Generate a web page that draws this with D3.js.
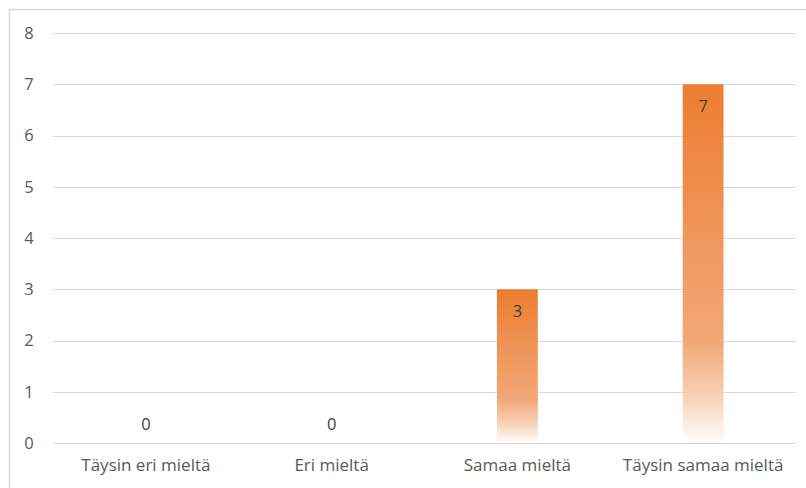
<!DOCTYPE html>
<html><head><meta charset="utf-8">
<script src="https://cdn.jsdelivr.net/npm/d3@7"></script>
<style>body{margin:0;background:#fff;} svg{display:block;}</style>
</head><body>
<svg id="c" width="806" height="488"></svg>
<script>
const categories = ["Täysin eri mieltä", "Eri mieltä", "Samaa mieltä", "Täysin samaa mieltä"];
const values = [0, 0, 3, 7];
const yTicks = [0, 1, 2, 3, 4, 5, 6, 7, 8];

const svg = d3.select("#c");
const font = "'Open Sans', 'Liberation Sans', sans-serif";

// chart border
svg.append("rect").attr("x", 9.5).attr("y", 9.5).attr("width", 820).attr("height", 500)
  .attr("fill", "none").attr("stroke", "#d9d9d9").attr("stroke-width", 1.5);

const x = d3.scaleBand().domain(categories).range([53, 796]).paddingInner(0.78).paddingOuter(0.39);
const y = d3.scaleLinear().domain([0, 8]).range([443, 33]);

const defs = svg.append("defs");
const grad = defs.append("linearGradient").attr("id", "g").attr("x1", 0).attr("y1", 0).attr("x2", 0).attr("y2", 1);
grad.append("stop").attr("offset", "0%").attr("stop-color", "#ED7D31");
grad.append("stop").attr("offset", "72%").attr("stop-color", "#F2A878");
grad.append("stop").attr("offset", "88%").attr("stop-color", "#F8D3BA");
grad.append("stop").attr("offset", "100%").attr("stop-color", "#FFFFFF");

// gridlines
svg.append("g").selectAll("line").data(yTicks).join("line")
  .attr("x1", 53).attr("x2", 796)
  .attr("y1", d => Math.round(y(d)) + 0.5).attr("y2", d => Math.round(y(d)) + 0.5)
  .attr("stroke", "#d9d9d9").attr("stroke-width", 1);

// y axis labels
const yAxis = d3.axisLeft(y).tickValues(yTicks).tickSize(0).tickPadding(0);
const ya = svg.append("g").attr("transform", "translate(29,0)").call(yAxis);
ya.select(".domain").remove();
ya.selectAll("text").attr("font-family", font).attr("font-size", 16.5).attr("fill", "#595959")
  .attr("text-anchor", "middle");

// x axis labels
const xAxis = d3.axisBottom(x).tickSize(0).tickPadding(0);
const xa = svg.append("g").attr("transform", "translate(0,459)").call(xAxis);
xa.select(".domain").remove();
xa.selectAll("text").attr("font-family", font).attr("font-size", 17).attr("fill", "#595959");

// bars
const data = categories.map((c, i) => ({c, v: values[i]}));
svg.append("g").selectAll("rect").data(data.filter(d => d.v > 0)).join("rect")
  .attr("x", d => x(d.c)).attr("width", x.bandwidth())
  .attr("y", d => y(d.v)).attr("height", d => y(0) - y(d.v))
  .attr("fill", "url(#g)");

// labels
svg.append("g").selectAll("text").data(data).join("text")
  .attr("x", d => x(d.c) + x.bandwidth() / 2)
  .attr("y", d => d.v > 0 ? y(d.v) + 28 : y(0) - 13)
  .attr("text-anchor", "middle")
  .attr("font-family", font).attr("font-size", 16.5).attr("fill", "#404040")
  .text(d => d.v);
</script>
</body></html>
